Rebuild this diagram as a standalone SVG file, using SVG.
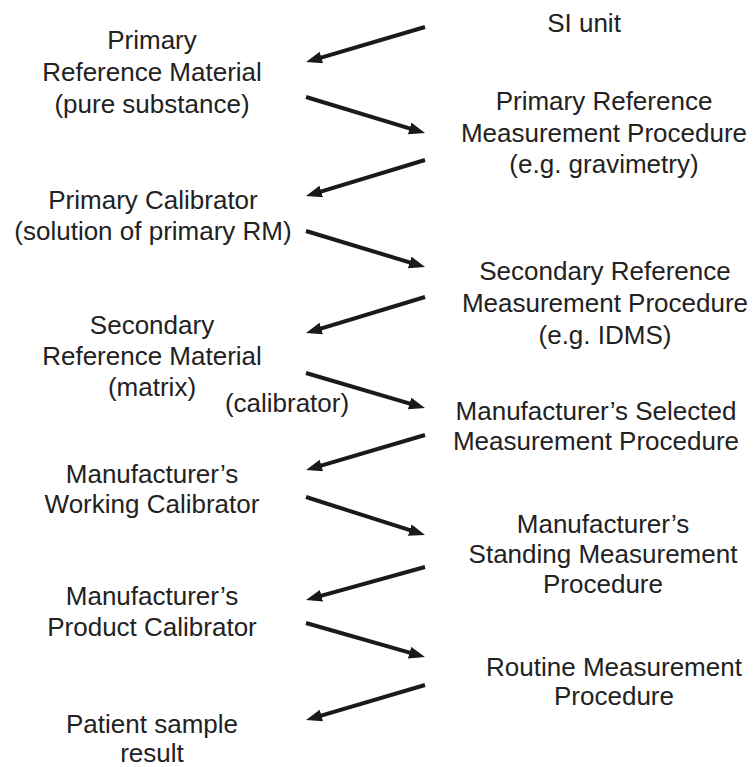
<svg xmlns="http://www.w3.org/2000/svg" width="756" height="767" viewBox="0 0 756 767">
<defs>
<style>
text{font-family:"Liberation Sans",Arial,sans-serif;font-size:26px;fill:#222;text-anchor:middle}
.c line{stroke:#1a1a1a;stroke-width:4;fill:none;marker-end:url(#ah)}
</style>
<marker id="ah" markerUnits="userSpaceOnUse" markerWidth="18" markerHeight="14" refX="10" refY="6" orient="auto">
<path d="M0,0 L16,6 L0,12 z" fill="#1a1a1a"/>
</marker>
</defs>
<rect width="756" height="767" fill="#fff"/>
<g id="n-si"><text x="584" y="32">SI unit</text></g>
<g id="n-prm"><text x="152" y="49">Primary</text><text x="152" y="81">Reference Material</text><text x="152" y="113">(pure substance)</text></g>
<g id="n-prmp"><text x="604" y="110">Primary Reference</text><text x="604" y="142">Measurement Procedure</text><text x="604" y="173">(e.g. gravimetry)</text></g>
<g id="n-pc"><text x="153" y="209">Primary Calibrator</text><text x="153" y="240">(solution of primary RM)</text></g>
<g id="n-srmp"><text x="605" y="280">Secondary Reference</text><text x="605" y="312">Measurement Procedure</text><text x="605" y="344">(e.g. IDMS)</text></g>
<g id="n-srm"><text x="152" y="334">Secondary</text><text x="152" y="365">Reference Material</text><text x="152" y="396">(matrix)</text></g>
<g id="n-cal"><text x="287" y="412">(calibrator)</text></g>
<g id="n-msmp"><text x="596" y="420">Manufacturer’s Selected</text><text x="596" y="450">Measurement Procedure</text></g>
<g id="n-mwc"><text x="152" y="483">Manufacturer’s</text><text x="152" y="513">Working Calibrator</text></g>
<g id="n-mstmp"><text x="603" y="533">Manufacturer’s</text><text x="603" y="563">Standing Measurement</text><text x="603" y="593">Procedure</text></g>
<g id="n-mpc"><text x="152" y="605">Manufacturer’s</text><text x="152" y="636">Product Calibrator</text></g>
<g id="n-rmp"><text x="614" y="676">Routine Measurement</text><text x="614" y="705">Procedure</text></g>
<g id="n-psr"><text x="152" y="733">Patient sample</text><text x="152" y="762">result</text></g>
<g id="connectors" class="c">
<line x1="425" y1="27" x2="311.8" y2="60.3"/>
<line x1="306" y1="97" x2="419.3" y2="131.3"/>
<line x1="425" y1="160" x2="311.7" y2="194.3"/>
<line x1="306" y1="231" x2="419.3" y2="265.3"/>
<line x1="425" y1="297" x2="311.7" y2="331.3"/>
<line x1="306" y1="373" x2="419.2" y2="406.3"/>
<line x1="425" y1="435" x2="311.8" y2="468.3"/>
<line x1="306" y1="497" x2="419.3" y2="533.2"/>
<line x1="425" y1="567" x2="311.8" y2="598.4"/>
<line x1="306" y1="623" x2="419.2" y2="655.4"/>
<line x1="425" y1="685" x2="311.8" y2="718.3"/>
</g>
</svg>
